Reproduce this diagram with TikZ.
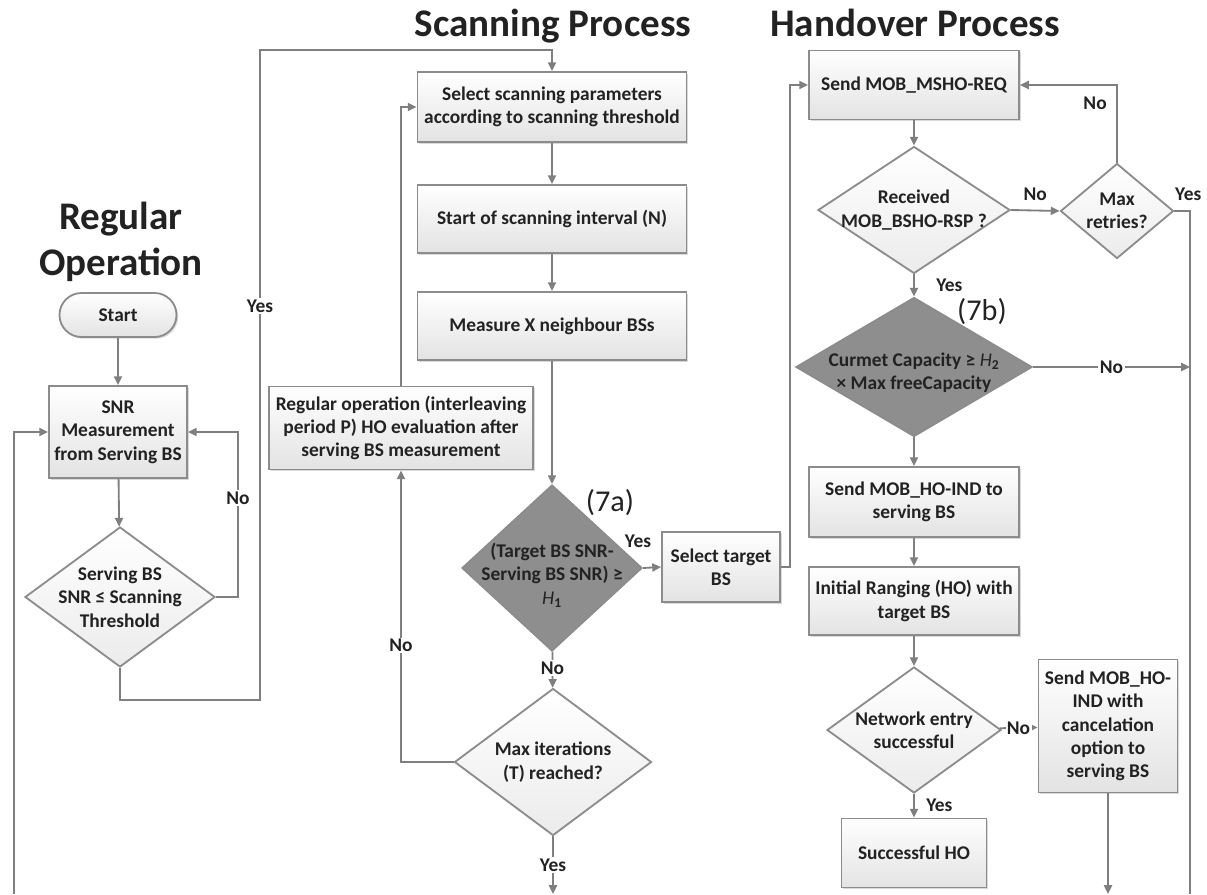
\documentclass[tikz,border=0pt]{standalone}
\usepackage{fontspec}
\setmainfont{Carlito}
\usetikzlibrary{arrows.meta,shapes.geometric,shadows}
\definecolor{linegray}{HTML}{7F7F7F}
\definecolor{edgegray}{HTML}{8C8C8C}
\definecolor{darkfill}{HTML}{8E8E8E}
\definecolor{boxbottom}{HTML}{E3E3E3}
\definecolor{inkgray}{HTML}{222222}
\newcommand{\flowfont}{\bfseries\fontsize{13.8}{16.6}\selectfont}
\newcommand{\headfont}{\bfseries\fontsize{27.8}{32.8}\selectfont}
\newcommand{\tagfont}{\fontsize{21.5}{24}\selectfont}

\begin{document}
\begin{tikzpicture}[
x=0.025cm, y=-0.025cm,
process/.style={rectangle, draw=edgegray, line width=1.3pt, top color=white, bottom color=boxbottom, align=center, font=\flowfont, text=inkgray, inner sep=1pt, drop shadow={shadow xshift=1.2pt, shadow yshift=-1.2pt, opacity=0.3}},
terminal/.style={process, rounded corners=0.55cm, minimum width=2.925cm, minimum height=1.1cm},
decision/.style={diamond, draw=edgegray, line width=1.3pt, top color=white, bottom color=boxbottom!70, inner sep=0pt},
criterion/.style={diamond, draw=edgegray, line width=1.3pt, fill=darkfill, inner sep=0pt},
dtext/.style={align=center, font=\flowfont, text=inkgray},
flow/.style={draw=linegray, line width=1.3pt, -{Triangle[length=0.22cm, width=0.2cm]}},
bus/.style={draw=linegray, line width=1.3pt},
lbl/.style={fill=white, font=\flowfont, text=inkgray, inner sep=1pt},
title/.style={font=\headfont, text=inkgray, align=center},
tag/.style={font=\tagfont, text=inkgray},
]
\useasboundingbox (0,0) rectangle (1207,894);

% headings
\node[title] (regtitle) at (121,242) {Regular\\Operation};
\node[title] (scantitle) at (553,26) {Scanning Process};
\node[title] (hotitle) at (915,23) {Handover Process};

% regular operation
\node[terminal] (start) at (118,315) {Start};
\node[process, minimum width=3.45cm, minimum height=2.3cm] (snr) at (118,432) {SNR\\Measurement\\from Serving BS};
\node[decision, minimum width=4.75cm, minimum height=3.5cm, label={[dtext]center:{Serving BS\\SNR ≤ Scanning\\Threshold}}] (thr) at (120,597) {};

% scanning process
\node[process, minimum width=6.725cm, minimum height=1.75cm] (params) at (552,107) {Select scanning parameters\\according to scanning threshold};
\node[process, minimum width=6.725cm, minimum height=1.7cm] (interval) at (552,219) {Start of scanning interval (N)};
\node[process, minimum width=6.725cm, minimum height=1.7cm] (measure) at (552,326) {Measure X neighbour BSs};
\node[process, minimum width=6.6cm, minimum height=2.075cm] (regop) at (401,428) {Regular operation (interleaving\\period P) HO evaluation after\\serving BS measurement};
\node[criterion, minimum width=4.5cm, minimum height=4.15cm, label={[dtext, yshift=-0.18cm]center:{(Target BS SNR-\\Serving BS SNR) ≥\\{\mdseries\itshape H}\textsubscript{1}}}] (gain) at (552,568) {};
\node[tag] (taga) at (610,503) {(7a)};
\node[decision, minimum width=4.925cm, minimum height=3.675cm, label={[dtext]center:{Max iterations\\(T) reached?}}] (iter) at (553,762) {};
\node[process, minimum width=2.95cm, minimum height=1.75cm] (target) at (721,567) {Select target\\BS};

% handover process
\node[process, minimum width=5.25cm, minimum height=1.725cm] (msho) at (914,85) {Send MOB\_MSHO-REQ};
\node[decision, minimum width=4.8cm, minimum height=3.175cm, label={[dtext]center:{Received\\MOB\_BSHO-RSP ?}}] (bsho) at (914,210) {};
\node[decision, minimum width=2.825cm, minimum height=2.375cm, label={[dtext]center:{Max\\retries?}}] (retries) at (1117,211) {};
\node[criterion, minimum width=5.9cm, minimum height=3.475cm, label={[dtext, yshift=-0.14cm]center:{Curmet Capacity ≥ {\mdseries\itshape H}\textsubscript{2}\\× Max freeCapacity}}] (cap) at (914,367) {};
\node[tag] (tagb) at (982,312) {(7b)};
\node[process, minimum width=5.25cm, minimum height=1.75cm] (hoind) at (914,502) {Send MOB\_HO-IND to\\serving BS};
\node[process, minimum width=5.25cm, minimum height=1.7cm] (ranging) at (914,601) {Initial Ranging (HO) with\\target BS};
\node[decision, minimum width=4.35cm, minimum height=3.15cm, label={[dtext]center:{Network entry\\successful}}] (entry) at (914,730) {};
\node[process, minimum width=3.475cm, minimum height=3.325cm] (cancel) at (1108,726) {Send MOB\_HO-\\IND with\\cancelation\\option to\\serving BS};
\node[process, minimum width=3.625cm, minimum height=1.725cm] (success) at (914,853) {Successful HO};

\coordinate (leftend) at (14,894);
\coordinate (iterout) at (553,894);
\coordinate (cancelout) at (1108,894);
\coordinate (retryturn) at (1190,211);
\coordinate (rightbus) at (1190,367);
\coordinate (rightend) at (1190,894);

% connectors
\draw[flow] (start) -- (snr);
\draw[flow] (snr) -- (thr);
\draw[flow] (thr.east) -- ++(22,0) |- node[lbl, pos=0.3] {No} (snr.east);
\draw[flow] (thr.south) |- (260,700) -- node[lbl, pos=0.606] {Yes} (260,50) -| (params.north);
\draw[flow] (leftend) |- (snr.west);
\draw[flow] (params) -- (interval);
\draw[flow] (interval) -- (measure);
\draw[flow] (measure) -- (gain);
\draw[flow] (gain) -- node[lbl, pos=0.46] {No} (iter);
\draw[flow] (iter.west) -| node[lbl, pos=0.7] {No} (regop.south);
\draw[flow] (regop.north) |- (params.west);
\draw[flow] (iter) -- node[lbl] {Yes} (iterout);
\draw[flow] (gain.east) -- node[lbl, above=0.45cm, xshift=-0.35cm] {Yes} (target.west);
\draw[flow] (target.east) -- ++(9,0) |- (msho.west);
\draw[flow] (msho) -- (bsho);
\draw[flow] (bsho.east) -- node[lbl, above=0.2cm] {No} (retries.west);
\draw[flow] (retries.north) |- node[lbl, pos=0.385, left=0.2cm] {No} (msho.east);
\draw[bus] (retries.east) -- node[lbl, above=0.2cm, xshift=0.15cm] {Yes} (retryturn) -- (rightend);
\draw[flow] (bsho) -- node[lbl, right=0.5cm] {Yes} (cap);
\draw[flow] (cap.east) -- node[lbl] {No} (rightbus);
\draw[flow] (cap) -- (hoind);
\draw[flow] (hoind) -- (ranging);
\draw[flow] (ranging) -- (entry);
\draw[flow] (entry) -- node[lbl] {No} (cancel);
\draw[flow] (entry) -- node[lbl, right=0.25cm] {Yes} (success);
\draw[flow] (cancel) -- (cancelout);
\end{tikzpicture}
\end{document}
